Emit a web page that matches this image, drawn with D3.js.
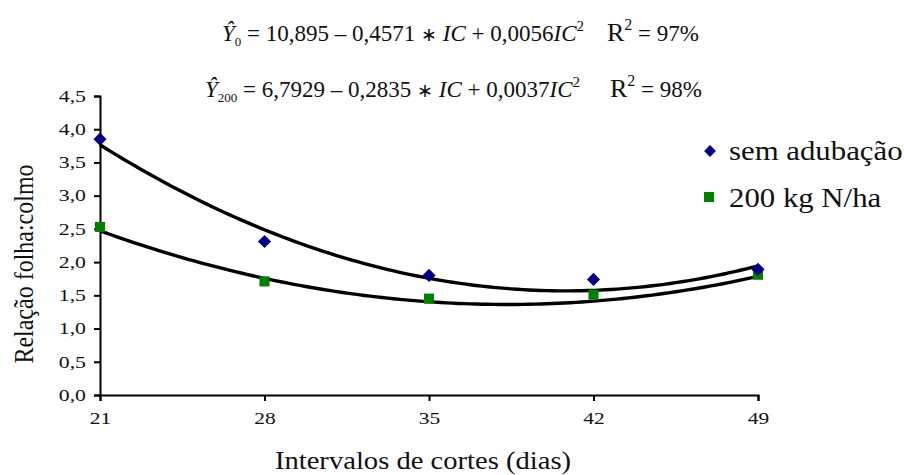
<!DOCTYPE html>
<html>
<head>
<meta charset="utf-8">
<script src="https://cdn.jsdelivr.net/npm/d3@7"></script>
<style>
  html, body { margin: 0; padding: 0; background: #fff; }
  svg { display: block; }
</style>
</head>
<body>
<svg id="chart" width="904" height="475"></svg>
<script>
// Cutting intervals (days)
const intervals = [21, 28, 35, 42, 49];
// Leaf:stem ratio, no fertilizer
const semAdubacao = [3.85, 2.31, 1.80, 1.74, 1.89];
// Leaf:stem ratio, 200 kg N/ha
const n200 = [2.53, 1.71, 1.45, 1.51, 1.81];
// Quadratic fit coefficients [a, b, c] for y = a + b*IC + c*IC^2
const fitSem = [10.895, -0.4571, 0.0056];
const fit200 = [6.7929, -0.2835, 0.0037];
const yTicks = [0, 0.5, 1, 1.5, 2, 2.5, 3, 3.5, 4, 4.5];
const seriesNames = ["sem adubação", "200 kg N/ha"];

const FONT = "'Liberation Serif', 'Times New Roman', serif";
const INK = "#111";
const svg = d3.select("#chart");
const x = d3.scaleLinear().domain([21, 49]).range([100, 758]);
const y = d3.scaleLinear().domain([0, 4.5]).range([395, 96]);
const fmt = v => d3.format(".1f")(v).replace(".", ",");

// Text placed at (px, py), widened horizontally by sx
function wideText(px, py, sx, size, anchor) {
  return svg.append("g").attr("transform", `translate(${px},${py}) scale(${sx},1)`)
    .append("text").attr("text-anchor", anchor || "start")
    .style("font-size", size + "px").attr("fill", INK);
}

// Axes
const yAxis = svg.append("g").attr("transform", "translate(100,0)")
  .call(d3.axisLeft(y).tickValues(yTicks).tickFormat(fmt).tickSize(6).tickPadding(8));
const xAxis = svg.append("g").attr("transform", "translate(0,395)")
  .call(d3.axisBottom(x).tickValues(intervals).tickFormat(d3.format("d")).tickSize(6).tickPadding(10));
[yAxis, xAxis].forEach(g => {
  g.select(".domain").attr("stroke", "#000").attr("stroke-width", 2);
  g.selectAll(".tick line").attr("stroke", "#000").attr("stroke-width", 2);
  g.selectAll(".tick text").attr("fill", INK).style("font-size", "16.5px");
});
yAxis.selectAll(".tick text").attr("x", 0).attr("transform", "translate(-14,0) scale(1.32,1)");
xAxis.selectAll(".tick text").attr("y", 0).attr("transform", "translate(0,17) scale(1.3,1)");

// Fitted curves
const curvePts = coef => d3.range(21, 49.01, 0.25).map(t => [t, coef[0] + coef[1] * t + coef[2] * t * t]);
const line = d3.line().x(d => x(d[0])).y(d => y(d[1]));
[fitSem, fit200].forEach(c => {
  svg.append("path").attr("d", line(curvePts(c)))
    .attr("fill", "none").attr("stroke", "#000").attr("stroke-width", 3.4)
    .attr("stroke-linejoin", "round");
});

// Markers
const diamond = d3.symbol().type(d3.symbolDiamond2).size(110);
const square = d3.symbol().type(d3.symbolSquare2).size(130);
svg.append("g").selectAll("path").data(n200).join("path")
  .attr("transform", (d, i) => `translate(${x(intervals[i])},${y(d)})`)
  .attr("d", square).attr("fill", "#008000");
svg.append("g").selectAll("path").data(semAdubacao).join("path")
  .attr("transform", (d, i) => `translate(${x(intervals[i])},${y(d)})`)
  .attr("d", diamond).attr("fill", "#000080");

// Legend
svg.append("path").attr("transform", "translate(710,151)")
  .attr("d", d3.symbol().type(d3.symbolDiamond2).size(90)).attr("fill", "#000080");
svg.append("path").attr("transform", "translate(709,197)")
  .attr("d", d3.symbol().type(d3.symbolSquare2).size(130)).attr("fill", "#008000");
seriesNames.forEach((name, i) => wideText(729, 160 + i * 46.5, 1.1, 28).text(name));

// Axis titles
wideText(423, 469, 1.1, 26, "middle").text("Intervalos de cortes (dias)");
svg.append("g").attr("transform", "translate(33,264) scale(1.1,1) rotate(-90)")
  .append("text").attr("text-anchor", "middle").style("font-size", "24px").attr("fill", INK)
  .text("Relação folha:colmo");

// Regression equations
function equation(xs, ybase, sub, coef, r2, xr) {
  const fmtC = v => String(Math.abs(v)).replace(".", ",");
  const t = svg.append("text").attr("x", xs).attr("y", ybase).style("font-size", "23px").attr("fill", INK);
  t.append("tspan").style("font-style", "italic").text("Ŷ");
  t.append("tspan").style("font-size", "13px").attr("dy", 5).text(sub);
  t.append("tspan").attr("dy", -5).text(` = ${fmtC(coef[0])} – ${fmtC(coef[1])} `);
  t.append("tspan").style("font-size", "19px").text("∗");
  t.append("tspan").text(" ");
  t.append("tspan").style("font-style", "italic").text("IC");
  t.append("tspan").text(` + ${fmtC(coef[2])}`);
  t.append("tspan").style("font-style", "italic").text("IC");
  t.append("tspan").style("font-size", "15px").attr("dy", -10).text("2");
  const r = svg.append("text").attr("x", xr).attr("y", ybase).style("font-size", "23px").attr("fill", INK);
  r.append("tspan").style("font-size", "26px").text("R");
  r.append("tspan").style("font-size", "16px").attr("dy", -11).text("2");
  r.append("tspan").attr("dy", 11).text(` = ${r2}%`);
}
equation(222, 41, "0", fitSem, 97, 607);
equation(205, 97, "200", fit200, 98, 610);

svg.selectAll("text").style("font-family", FONT);
</script>
</body>
</html>
